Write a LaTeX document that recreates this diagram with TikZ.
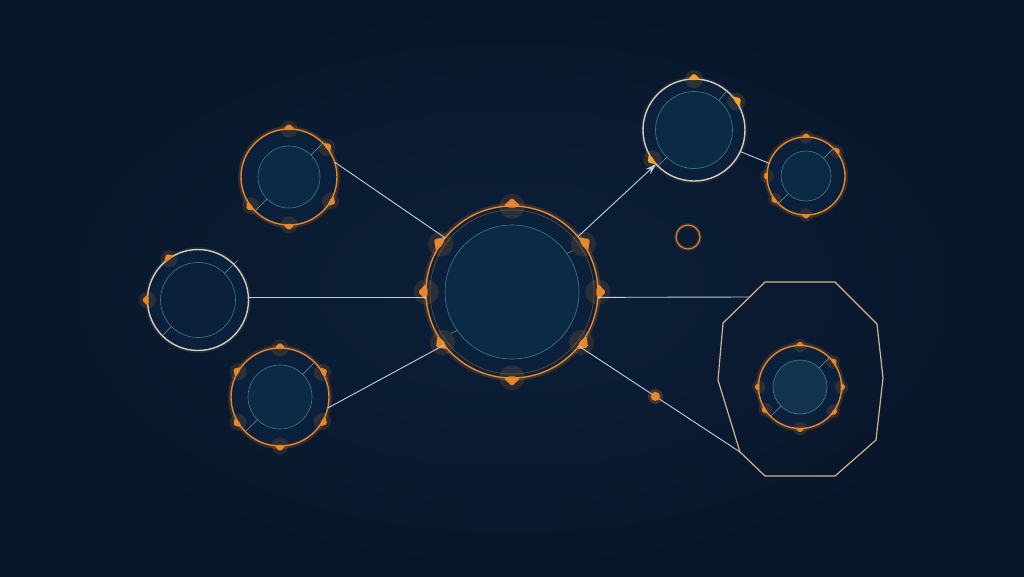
\documentclass[tikz,border=0pt]{standalone}
\usetikzlibrary{arrows.meta}
\definecolor{bg}{HTML}{08162A}
\definecolor{bgin}{HTML}{0C2039}
\definecolor{nfill}{HTML}{0B213B}
\definecolor{infill}{HTML}{0C2A44}
\definecolor{infill2}{HTML}{13334C}
\definecolor{orng}{HTML}{E8862C}
\definecolor{gold}{HTML}{F0A232}
\definecolor{cream}{HTML}{D8CCB6}
\definecolor{tealc}{HTML}{3C7C92}
\definecolor{linkc}{HTML}{C4D0DC}
\definecolor{octc}{HTML}{D4B48E}
\definecolor{darkband}{HTML}{5A4638}
\newcommand\mound[4][orng]{%
  \fill[#1, opacity=0.14] (#2.#3) circle ({1.8*#4});
  \fill[#1, rounded corners=1.6pt] ([shift={({0-(#3)}:{1.15*#4})}]#2.#3)
     -- ([shift={({90-(#3)}:{1.2*#4})}]#2.#3) -- ([shift={({0-(#3)}:{-0.3*#4})}]#2.#3)
     -- ([shift={({-90-(#3)}:{1.2*#4})}]#2.#3) -- cycle;
}
\tikzset{
  ring/.style={circle, inner sep=0pt, outer sep=0pt, fill=nfill},
  oring/.style={ring, draw=orng, line width=1.4pt,
     preaction={draw=orng, line width=6pt, opacity=0.18}},
  cring/.style={ring, draw=cream, line width=1.4pt,
     preaction={draw=cream, line width=5pt, opacity=0.08}},
  inring/.style={circle, inner sep=0pt, outer sep=0pt, draw=tealc, line width=0.6pt, fill=infill},
  link/.style={draw=linkc, line width=0.9pt},
  tick/.style={draw=tealc!60!white, line width=0.5pt, opacity=0.8},
  dotn/.style={circle, fill=orng, inner sep=0pt, minimum size=9pt,
     preaction={draw=orng, line width=6pt, opacity=0.25}},
  octo/.style={draw=octc, line width=1.2pt},
}
\begin{document}
\begin{tikzpicture}[x=1pt,y=-1pt]
\fill[inner color=bgin, outer color=bg] (0,0) rectangle (1024,576);
\useasboundingbox (0,0) rectangle (1024,576);

% octagon
\coordinate (o1) at (765,282);
\coordinate (o2) at (835,282);
\coordinate (o3) at (877,324);
\coordinate (o4) at (883,378);
\coordinate (o5) at (876,440);
\coordinate (o6) at (835,476);
\coordinate (o7) at (765,476);
\coordinate (o8) at (740,452);
\coordinate (o9) at (718,380);
\coordinate (o10) at (723,323);
\coordinate (oh) at (749,297);
\draw[octo] (o1) -- (o2) -- (o3) -- (o4) -- (o5) -- (o6) -- (o7) -- (o8) -- (o9) -- (o10) -- cycle;

% center node
\node[oring, minimum size=172pt] (c) at (512,292) {};
\draw[darkband, line width=0.8pt] (512,292) circle (82);
\node[inring, minimum size=134pt] (ci) at (512,292) {};
\foreach \a in {90,270,180,0,146,34,216,324} { \mound{c}{\a}{7} }
\draw[tick] (ci.35) -- ++(6,-3);
\draw[tick] (ci.215) -- ++(-6,3);

% top-left node
\node[oring, minimum size=96pt] (tl) at (289,177) {};
\node[inring, minimum size=62pt] (tli) at (289,177) {};
\foreach \a in {90,270,38,-30,217} { \mound{tl}{\a}{4.8} }
\draw[tick] (tli.45) -- (tl.45);
\draw[tick] (tli.225) -- (tl.225);

% left node
\node[cring, minimum size=101pt] (l) at (198,300) {};
\node[inring, minimum size=75pt, fill=nfill] (li) at (198,300) {};
\foreach \a in {125,180} { \mound{l}{\a}{4.8} }
\draw[tick] (li.45) -- ([shift={(4,-4)}]l.45);
\draw[tick] (li.225) -- (l.225);

% bottom-left node
\node[oring, minimum size=98pt] (bl) at (280,397) {};
\node[inring, minimum size=64pt] (bli) at (280,397) {};
\foreach \a in {90,149,30,211,-30,270} { \mound{bl}{\a}{4.8} }
\draw[tick] (bli.45) -- (bl.45);
\draw[tick] (bli.225) -- (bl.225);

% top-right node
\node[cring, minimum size=102pt] (tr) at (694,130) {};
\node[inring, minimum size=77pt] (tri) at (694,130) {};
\foreach \a in {90,34,215} { \mound[gold]{tr}{\a}{5} }
\draw[tick] (tri.50) -- (tr.50);
\draw[tick] (tri.225) -- (tr.225);

% small right node
\node[oring, minimum size=78pt] (sr) at (806,176) {};
\node[inring, minimum size=50pt] (sri) at (806,176) {};
\foreach \a in {90,39,180,217,270} { \mound{sr}{\a}{3.8} }
\draw[tick] (sri.45) -- (sr.45);
\draw[tick] (sri.225) -- (sr.225);

% node inside octagon
\node[oring, minimum size=83pt] (on) at (800,387) {};
\node[inring, minimum size=54pt, fill=infill2] (oni) at (800,387) {};
\foreach \a in {90,37,0,-36,270,213,180} { \mound{on}{\a}{3.8} }
\draw[tick] (oni.45) -- (on.45);
\draw[tick] (oni.225) -- (on.225);

% small circle
\node[circle, inner sep=0pt, minimum size=24pt, draw=orng, line width=1.1pt,
      preaction={draw=orng, line width=4pt, opacity=0.15}] (sm) at (688,237) {};

% connectors
\draw[link] (tl.18) -- (c.141);
\draw[link] (l.3) -- (l.3 -| c.west);
\draw[link] (bl.-13) -- (c.218);
\draw[link, -{Stealth[length=11pt, width=7pt]}] (c.40) -- (tr.222);
\draw[link] (tr.-25) -- (sr.161);
\draw[link] (c.east |- l.3) -- (oh);
\draw[link] (c.-39) -- (o8) node[pos=0.475, dotn] (dot) {};
\end{tikzpicture}
\end{document}
